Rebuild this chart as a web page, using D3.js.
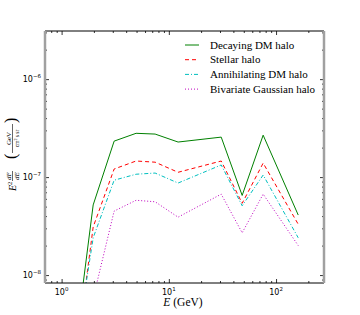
<!DOCTYPE html>
<html>
<head>
<meta charset="utf-8">
<script src="https://cdn.jsdelivr.net/npm/d3@7"></script>
<style>
  body { margin: 0; background: #fff; }
  svg { display: block; }
</style>
</head>
<body>
<svg id="Canvas" width="360" height="315"></svg>
<script>
// energy bins (GeV) and the four halo models
var energies = [1.27, 1.97, 3.09, 4.95, 7.45, 12.2, 30.8, 48.3, 75.8, 161];
var decaying = [1.2e-9, 5.2e-8, 2.33e-7, 2.8e-7, 2.75e-7, 2.28e-7, 2.56e-7, 6.5e-8, 2.68e-7, 4.1e-8];
var stellar = [7.8e-10, 3.1e-8, 1.21e-7, 1.46e-7, 1.42e-7, 1.12e-7, 1.46e-7, 5.4e-8, 1.39e-7, 3.3e-8];
var annihilating = [1.1e-9, 2.4e-8, 9.3e-8, 1.07e-7, 1.1e-7, 8.7e-8, 1.33e-7, 5.1e-8, 1.05e-7, 2.4e-8];
var gaussian = [7.8e-10, 5.8e-9, 4.5e-8, 5.8e-8, 5.6e-8, 3.9e-8, 6.7e-8, 2.7e-8, 6.7e-8, 2e-8];

var seriesNames = ["Decaying DM halo", "Stellar halo", "Annihilating DM halo", "Bivariate Gaussian halo"];
var xMajor = [1, 10, 100];
var xMajorExp = ["0", "1", "2"];
var yMajor = [1e-8, 1e-7, 1e-6];
var yMajorExp = ["\u22128", "\u22127", "\u22126"];

var series = [
  { name: seriesNames[0], values: decaying, color: "#008000", dash: null },
  { name: seriesNames[1], values: stellar, color: "#ff0000", dash: "4,3" },
  { name: seriesNames[2], values: annihilating, color: "#00bfbf", dash: "4,2,1,2" },
  { name: seriesNames[3], values: gaussian, color: "#bf00bf", dash: "1,2" }
];

var svg = d3.select("#Canvas"),
  pLeft = 45, pRight = 324, pTop = 31, pBottom = 283,
  serif = "'Liberation Serif', 'DejaVu Serif', serif",
  sans = "'DejaVu Sans', sans-serif";

var x = d3.scaleLog().domain([0.7, 280]).range([pLeft, pRight]);
var y = d3.scaleLog().domain([8.3e-9, 3.1e-6]).range([pBottom, pTop]);

svg.append("clipPath").attr("id", "plotClip")
  .append("rect").attr("x", pLeft).attr("y", pTop)
  .attr("width", pRight - pLeft).attr("height", pBottom - pTop);

DrawLines();
DrawAxes();
DrawLegend();
DrawLabels();

function DrawLines(){
  var line = d3.line()
    .x(function(d, i){ return x(energies[i]); })
    .y(function(d){ return y(d); });

  svg.append("g").attr("clip-path", "url(#plotClip)")
    .selectAll("path").data(series).enter()
    .append("path")
    .attr("d", function(d){ return line(d.values); })
    .attr("fill", "none")
    .attr("stroke", function(d){ return d.color; })
    .attr("stroke-width", 1)
    .attr("stroke-dasharray", function(d){ return d.dash; });
}

function minorTicks(scale){
  var d = scale.domain(), out = [];
  var lo = Math.floor(Math.log10(d[0])), hi = Math.ceil(Math.log10(d[1]));
  for(var e = lo; e <= hi; e++){
    for(var m = 2; m <= 9; m++){
      var v = m * Math.pow(10, e);
      if(v >= d[0] && v <= d[1]) out.push(v);
    }
  }
  return out;
}

function DrawAxes(){
  var g = svg.append("g");
  // inward ticks on all four sides
  var bottomAxis = d3.axisTop(x).tickValues(xMajor).tickSize(4).tickFormat("");
  var bottomMinor = d3.axisTop(x).tickValues(minorTicks(x)).tickSize(2).tickFormat("");
  var topAxis = d3.axisBottom(x).tickValues(xMajor).tickSize(4).tickFormat("");
  var topMinor = d3.axisBottom(x).tickValues(minorTicks(x)).tickSize(2).tickFormat("");
  var leftAxis = d3.axisRight(y).tickValues(yMajor).tickSize(4).tickFormat("");
  var leftMinor = d3.axisRight(y).tickValues(minorTicks(y)).tickSize(2).tickFormat("");
  var rightAxis = d3.axisLeft(y).tickValues(yMajor).tickSize(4).tickFormat("");
  var rightMinor = d3.axisLeft(y).tickValues(minorTicks(y)).tickSize(2).tickFormat("");

  [[bottomAxis, 0, pBottom], [bottomMinor, 0, pBottom], [topAxis, 0, pTop], [topMinor, 0, pTop],
   [leftAxis, pLeft, 0], [leftMinor, pLeft, 0], [rightAxis, pRight, 0], [rightMinor, pRight, 0]]
  .forEach(function(a){
    var ax = g.append("g").attr("transform", "translate(" + a[1] + "," + a[2] + ")").call(a[0]);
    ax.select(".domain").remove();
    ax.selectAll("line").attr("stroke", "#000").attr("stroke-width", 0.8);
  });

  // frame: grey left/right, black top/bottom
  g.append("line").attr("x1", pLeft).attr("x2", pRight).attr("y1", pTop).attr("y2", pTop)
    .attr("stroke", "#000").attr("stroke-width", 1);
  g.append("line").attr("x1", pLeft).attr("x2", pRight).attr("y1", pBottom).attr("y2", pBottom)
    .attr("stroke", "#000").attr("stroke-width", 1);
  g.append("line").attr("x1", pLeft).attr("x2", pLeft).attr("y1", pTop).attr("y2", pBottom)
    .attr("stroke", "#a0a0a0").attr("stroke-width", 2.5);
  g.append("line").attr("x1", pRight).attr("x2", pRight).attr("y1", pTop).attr("y2", pBottom)
    .attr("stroke", "#a0a0a0").attr("stroke-width", 2.5);

  // tick labels 10^n
  xMajor.forEach(function(v, i){
    var t = g.append("text").attr("x", x(v)).attr("y", 295)
      .attr("text-anchor", "middle").attr("font-family", sans).attr("font-size", 8).attr("fill", "#000");
    t.append("tspan").text("10");
    t.append("tspan").attr("dy", -4).attr("font-size", 5.5).text(xMajorExp[i]);
  });
  yMajor.forEach(function(v, i){
    var t = g.append("text").attr("x", 41).attr("y", y(v) + 3)
      .attr("text-anchor", "end").attr("font-family", sans).attr("font-size", 8).attr("fill", "#000");
    t.append("tspan").text("10");
    t.append("tspan").attr("dy", -4).attr("font-size", 5.5).text(yMajorExp[i]);
  });
}

function DrawLegend(){
  var lg = svg.append("g").attr("transform", "translate(185,45)");
  var rows = lg.selectAll("g").data(series).enter().append("g")
    .attr("transform", function(d, i){ return "translate(0," + (i * 14.7) + ")"; });
  rows.append("line").attr("x1", 0).attr("x2", 14).attr("y1", 0).attr("y2", 0)
    .attr("stroke", function(d){ return d.color; })
    .attr("stroke-width", 1)
    .attr("stroke-dasharray", function(d){ return d.dash; });
  rows.append("text").attr("x", 25).attr("y", 3.5)
    .attr("font-family", serif).attr("font-size", 11).attr("fill", "#000")
    .text(function(d){ return d.name; });
}

function DrawLabels(){
  // x label
  var xl = svg.append("text").attr("x", 183).attr("y", 306).attr("text-anchor", "middle")
    .attr("font-family", serif).attr("font-size", 11.5).attr("fill", "#000");
  xl.append("tspan").attr("font-style", "italic").text("E");
  xl.append("tspan").text(" (GeV)");

  // y label, built in rotated frame (x runs upward)
  var yl = svg.append("g").attr("transform", "translate(12,158) rotate(-90)")
    .attr("font-family", serif).attr("fill", "#000");
  // E^2
  var e = yl.append("text").attr("x", -33).attr("y", 4).attr("font-size", 10);
  e.append("tspan").attr("font-style", "italic").text("E");
  e.append("tspan").attr("dy", -4).attr("font-size", 6.5).text("2");
  // dF/dE
  yl.append("text").attr("x", -18).attr("y", -1.5).attr("text-anchor", "middle")
    .attr("font-size", 7).attr("font-style", "italic").text("dF");
  yl.append("line").attr("x1", -23).attr("x2", -13).attr("y1", 0.5).attr("y2", 0.5)
    .attr("stroke", "#000").attr("stroke-width", 0.6);
  yl.append("text").attr("x", -18).attr("y", 6.5).attr("text-anchor", "middle")
    .attr("font-size", 7).attr("font-style", "italic").text("dE");
  // (GeV / cm^2 s sr)
  yl.append("text").attr("x", -1).attr("y", 4).attr("font-size", 16).text("(");
  yl.append("text").attr("x", 35).attr("y", 4).attr("font-size", 16).text(")");
  yl.append("text").attr("x", 19.5).attr("y", -1).attr("text-anchor", "middle")
    .attr("font-size", 7).text("GeV");
  yl.append("line").attr("x1", 5).attr("x2", 34).attr("y1", 0.5).attr("y2", 0.5)
    .attr("stroke", "#000").attr("stroke-width", 0.6);
  var u = yl.append("text").attr("x", 19.5).attr("y", 7).attr("text-anchor", "middle").attr("font-size", 5.5);
  u.append("tspan").text("cm");
  u.append("tspan").attr("dy", -2).attr("font-size", 4).text("2");
  u.append("tspan").attr("dy", 2).text(" s sr");
}
</script>
</body>
</html>
